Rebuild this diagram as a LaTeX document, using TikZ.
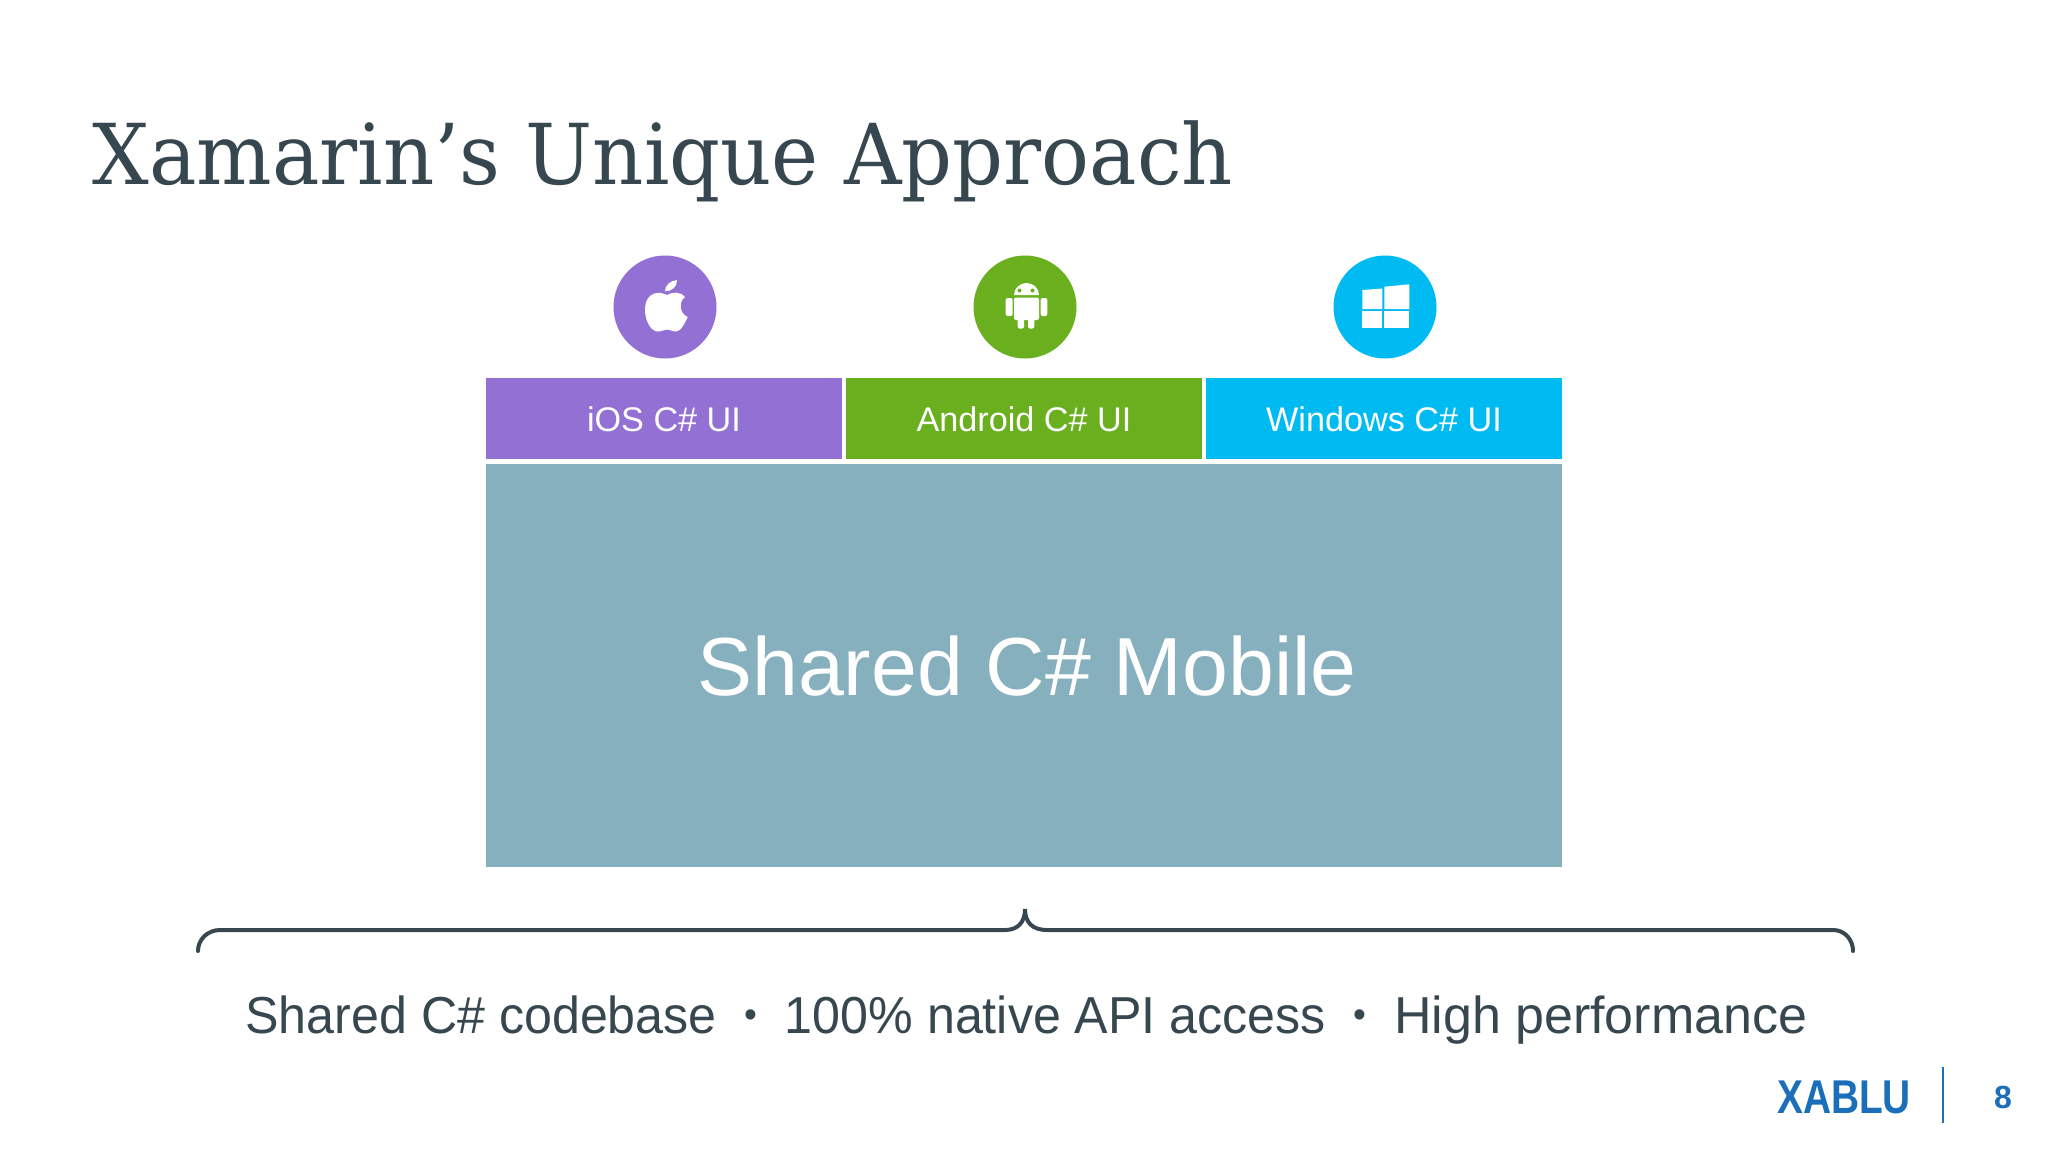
\documentclass[tikz,border=0pt]{standalone}
\usepackage{fontspec}
\usepackage{tikz}
\usetikzlibrary{positioning}
\setmainfont{Liberation Sans}
\newfontfamily\titlefont[FakeStretch=0.948]{DejaVu Serif}
\newfontfamily\bodyfont[FakeStretch=0.965]{Liberation Sans}
\newfontfamily\logofont[FakeStretch=0.82]{Liberation Sans}
\newcommand{\featuredot}{\hspace{13.8pt}\raisebox{2.6pt}{\fontsize{19}{19}\selectfont •}\hspace{13.8pt}}
\definecolor{iospurple}{HTML}{9370D3}
\definecolor{droidgreen}{HTML}{69AF1E}
\definecolor{winblue}{HTML}{00BAF2}
\definecolor{sharedteal}{HTML}{87B0BE}
\definecolor{slatetext}{HTML}{37474F}
\definecolor{logoblue}{HTML}{1B6FBA}
\tikzset{
  uibox/.style={minimum width=178pt, minimum height=40.25pt, inner sep=0pt, text=white, text height=13.3pt, text depth=0pt, font=\fontsize{17.1}{17}\selectfont},
  osdisc/.style={circle, minimum size=51.5pt, inner sep=0pt},
  bracestyle/.style={draw=slatetext, line width=2pt, line cap=round},
}
\begin{document}
\begin{tikzpicture}[x=0.5pt, y=-0.5pt]
\useasboundingbox (0,0) rectangle (2048,1152);

\node (title) at (92,184) [anchor=base west, inner sep=0pt, text=slatetext, font=\titlefont\fontsize{42}{42}\selectfont] {Xamarin’s Unique Approach};

\node (discios) at (665,307) [osdisc, fill=iospurple] {};
\node (discdroid) at (1025,307) [osdisc, fill=droidgreen] {};
\node (discwin) at (1385,307) [osdisc, fill=winblue] {};

% apple
\fill[white] (667,295) .. controls (660,291) and (645,291) .. (645,310) .. controls (645,322) and (652,332) .. (658,331.5) .. controls (662,331.5) and (664,329.5) .. (667,329.5) .. controls (670,329.5) and (672,331.5) .. (676,331.5) .. controls (681,331.5) and (685,323) .. (687.7,317) .. controls (680,314) and (678,302) .. (685,297) .. controls (680,291) and (672,292) .. (667,295) -- cycle;
\fill[white] (665,291.5) .. controls (665,285) and (670,281) .. (677,280) .. controls (677,287) and (672,291) .. (665,291.5) -- cycle;

% android
\fill[white] (1014,295) .. controls (1014,288) and (1020,283) .. (1026.5,283) .. controls (1033,283) and (1039,288) .. (1039,295) -- cycle;
\fill[white, rounded corners=1pt] (1014,297.5) rectangle (1039,320);
\fill[white, rounded corners=1pt] (1005.7,298) rectangle (1012.7,316);
\fill[white, rounded corners=1pt] (1040.7,298) rectangle (1047.3,316);
\fill[white, rounded corners=1pt] (1017.7,316) rectangle (1024,328.5);
\fill[white, rounded corners=1pt] (1028,316) rectangle (1034.3,328.5);
\fill[droidgreen] (1019.5,290.5) circle (1pt) (1032.5,290.5) circle (1pt);

% windows
\fill[white] (1362.3,290) -- (1382.3,288.5) -- (1382.3,309) -- (1362.3,309) -- cycle;
\fill[white] (1362.3,310.7) -- (1382.3,310.7) -- (1382.3,328.3) -- (1362.3,328.3) -- cycle;
\fill[white] (1384.3,286.7) -- (1409.3,284.3) -- (1409.3,309) -- (1384.3,309) -- cycle;
\fill[white] (1384.3,310.7) -- (1409.3,310.7) -- (1409.3,328.3) -- (1384.3,328.3) -- cycle;

\node (boxios) at (664,418.25) [uibox, fill=iospurple] {iOS C\# UI};
\node (boxdroid) at (1024,418.25) [uibox, fill=droidgreen] {Android C\# UI};
\node (boxwin) at (1384,418.25) [uibox, fill=winblue] {Windows C\# UI};

\node (boxshared) at (1024,665.5) [minimum width=538pt, minimum height=201.5pt, inner sep=0pt, fill=sharedteal] {};
\node (sharedlabel) at (1027,666) [text=white, inner sep=0pt, font=\fontsize{41.2}{41}\selectfont] {Shared C\# Mobile};

\coordinate (braceL) at (198,951);
\coordinate (braceTip) at (1025,909);
\coordinate (braceR) at (1853,951);
\draw[bracestyle] (braceL) .. controls (198,939) and (208,930) .. (220,930) -- (1005,930) .. controls (1018,930) and (1025,922) .. (braceTip) .. controls (1025,922) and (1032,930) .. (1047,930) -- (1833,930) .. controls (1845,930) and (1853,940) .. (braceR);

\node (features) at (245,1033) [anchor=base west, inner sep=0pt, text=slatetext, font=\bodyfont\fontsize{26}{26}\selectfont] {Shared C\# codebase\featuredot 100\% native API access\featuredot{\rmfamily High performance}};

\node (logo) at (1844,1113) [anchor=base, inner sep=0pt, text=logoblue, font=\logofont\bfseries\fontsize{23.7}{24}\selectfont] {XABLU};
\coordinate (ruletop) at (1943,1067);
\coordinate (rulebot) at (1943,1123);
\draw[logoblue, line width=1pt] (ruletop) -- (rulebot);
\node (pagenum) at (2003,1097) [inner sep=0pt, text=logoblue, font=\bfseries\fontsize{16}{16}\selectfont] {8};
\end{tikzpicture}
\end{document}
